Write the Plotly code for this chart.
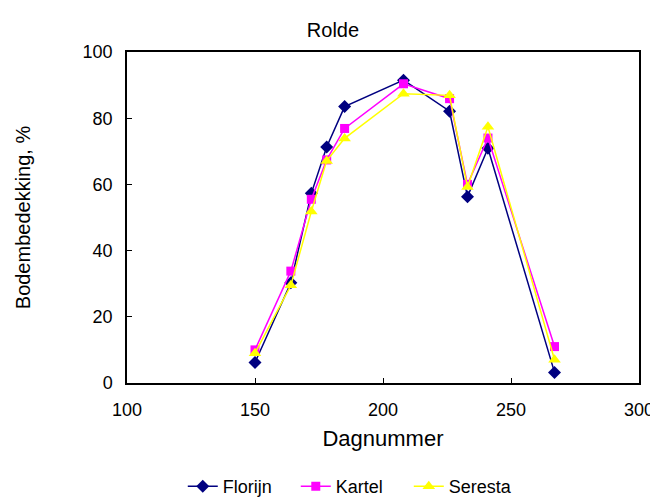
import plotly.graph_objects as go

days = [150, 164, 172, 178, 185, 208, 226, 233, 241, 267]
florijn = [6.2, 30.3, 57.3, 71.3, 83.5, 91.5, 82.1, 56.3, 70.9, 3.2]
kartel = [10.0, 33.8, 55.5, 67.4, 76.9, 90.4, 85.9, 60.0, 74.0, 11.0]
seresta = [9.0, 29.5, 51.8, 67.1, 73.9, 87.4, 86.9, 59.2, 77.4, 7.0]

font = "Liberation Sans"
W, H = 650, 489  # page body has an 8px margin

fig = go.Figure()
fig.add_trace(go.Scatter(x=days, y=florijn, name="Florijn", mode="lines+markers",
                         line=dict(color="#000080", width=1.5),
                         marker=dict(symbol="diamond", size=10, color="#000080")))
fig.add_trace(go.Scatter(x=days, y=kartel, name="Kartel", mode="lines+markers",
                         line=dict(color="#FF00FF", width=1.5),
                         marker=dict(symbol="square", size=9, color="#FF00FF")))
fig.add_trace(go.Scatter(x=days, y=seresta, name="Seresta", mode="lines+markers",
                         line=dict(color="#FFFF00", width=1.5),
                         marker=dict(symbol="triangle-up", size=11, color="#FFFF00")))

fig.update_layout(
    width=W, height=H,
    paper_bgcolor="white", plot_bgcolor="white",
    margin=dict(l=119, r=19, t=44, b=114, autoexpand=False),
    font=dict(family=font, color="black", size=18),
    title=dict(text="Rolde", x=0.5, xanchor="center", y=1 - 22 / H, yanchor="middle",
               font=dict(size=20, family=font)),
    showlegend=True,
    legend=dict(orientation="h", x=0.44, xanchor="center", y=-0.313, yanchor="middle",
                font=dict(size=18, family=font), entrywidth=68),
    xaxis=dict(range=[100, 300], tickvals=[100, 150, 200, 250, 300],
               showline=True, linecolor="black", linewidth=1.5, mirror=True,
               ticks="inside", ticklen=5, tickcolor="black", showgrid=False, zeroline=False,
               ticklabelstandoff=10, automargin=False, ticklabeloverflow="allow",
               title=dict(text="Dagnummer", font=dict(size=22, family=font), standoff=11)),
    yaxis=dict(range=[0, 100], tickvals=[0, 20, 40, 60, 80, 100],
               showline=True, linecolor="black", linewidth=1.5, mirror=True,
               ticks="inside", ticklen=5, tickcolor="black", showgrid=False, zeroline=False,
               ticklabelstandoff=9, automargin=False, ticklabeloverflow="allow",
               title=dict(text="Bodembedekking, %", font=dict(size=20, family=font), standoff=47)),
)

fig.write_html("out.html")
